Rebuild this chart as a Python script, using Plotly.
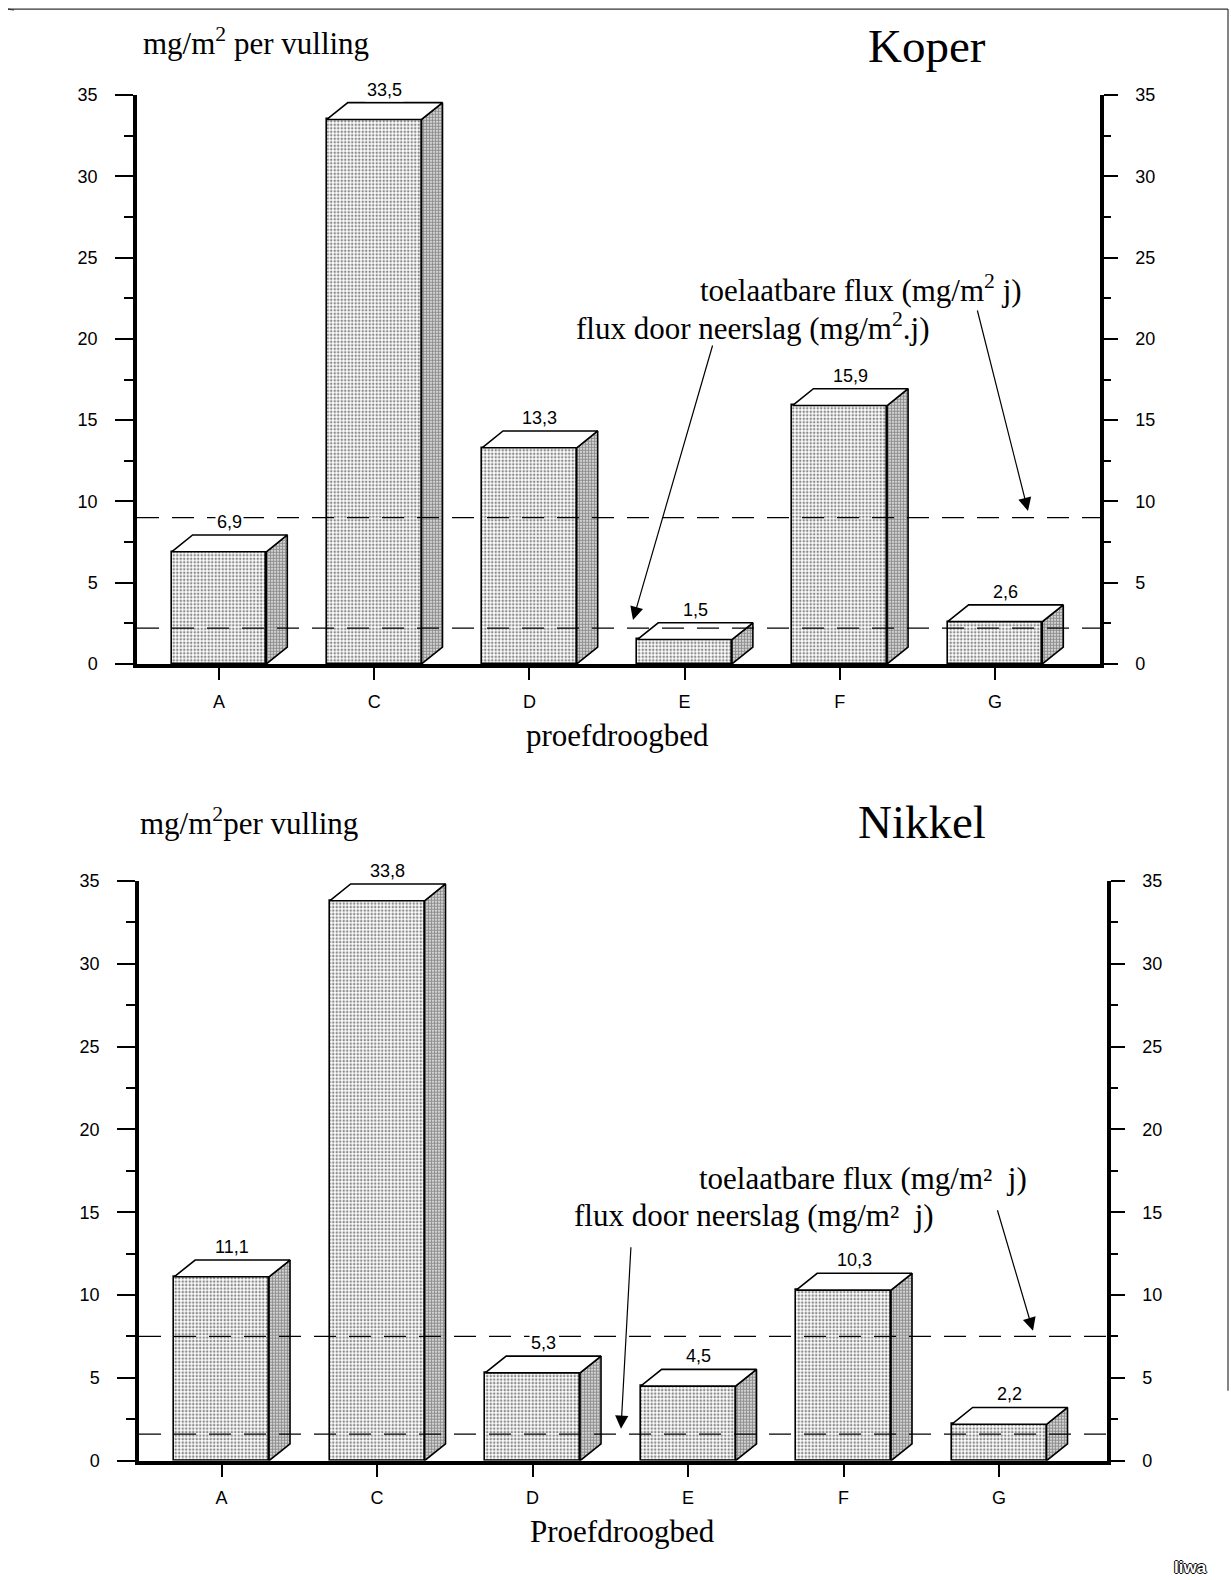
import plotly.graph_objects as go

# ---------------- data ----------------
categories = ["A", "C", "D", "E", "F", "G"]
koper_values = [6.9, 33.5, 13.3, 1.5, 15.9, 2.6]
nikkel_values = [11.1, 33.8, 5.3, 4.5, 10.3, 2.2]
koper_toelaatbaar = 9.0
koper_neerslag = 2.2
nikkel_toelaatbaar = 7.5
nikkel_neerslag = 1.6
y_max = 35

# ---------------- styling / geometry ----------------
W, H = 1231, 1580
SERIF = "Times New Roman, Liberation Serif, serif"
SANS = "Arial, Liberation Sans, Helvetica, sans-serif"
BAR_W = 0.61        # width of the front face (category units)
DX = 0.135          # horizontal depth of the 3D box (category units)
DEPTH_PX = 17       # vertical depth of the 3D box (pixels)
FRONT_PATTERN = dict(shape=".", size=3.5, solidity=0.42, fgcolor="#1a1a1a", bgcolor="white")
SIDE_PATTERN = dict(shape=".", size=3, solidity=0.66, fgcolor="#1a1a1a", bgcolor="white")

# vertical layout grid: page rows are laid out on a slightly tighter pitch
ROW_SCALE, ROW_OFFSET = 0.9876, 8.9


def fx(p):
    return p / W


def row(p):
    return (p - ROW_OFFSET) / ROW_SCALE


def fy(p):
    return 1 - row(p) / H


panels = [
    dict(values=koper_values, toel=koper_toelaatbaar, neer=koper_neerslag,
         xr="x", yr="y", yr2="y2", xkey="xaxis", ykey="yaxis", y2key="yaxis2",
         left=137, right=1100, top=94, bottom=663, first=219, step=155.2,
         ylabel="mg/m<sup>2</sup> per vulling", ylabel_pos=(141, 40),
         title="Koper", title_pos=(927, 45),
         xlabel="proefdroogbed", xlabel_pos=(617, 735),
         toel_text="toelaatbare flux (mg/m<sup>2</sup> j)", toel_pos=(861, 287),
         neer_text="flux door neerslag (mg/m<sup>2</sup>.j)", neer_pos=(752, 325),
         toel_arrow=((977, 308), (1028, 510)),
         neer_arrow=((713, 343), (633, 619))),
    dict(values=nikkel_values, toel=nikkel_toelaatbaar, neer=nikkel_neerslag,
         xr="x2", yr="y3", yr2="y4", xkey="xaxis2", ykey="yaxis3", y2key="yaxis4",
         left=139, right=1107, top=880, bottom=1460, first=221.6, step=155.5,
         ylabel="mg/m<sup>2</sup>per vulling", ylabel_pos=(138, 821),
         title="Nikkel", title_pos=(922, 821),
         xlabel="Proefdroogbed", xlabel_pos=(622, 1531),
         toel_text="toelaatbare flux (mg/m\u00b2\u00a0 j)", toel_pos=(863, 1178),
         neer_text="flux door neerslag (mg/m\u00b2\u00a0 j)", neer_pos=(754, 1215),
         toel_arrow=((997, 1208), (1033, 1330)),
         neer_arrow=((631, 1245), (621, 1428))),
]

fig = go.Figure()
annotations = []
shapes = []
layout_axes = {}

for p in panels:
    vals = p["values"]
    xs = list(range(len(categories)))
    xmin = -(p["first"] - p["left"]) / p["step"]
    xmax = xmin + (p["right"] - p["left"]) / p["step"]
    top, bottom = row(p["top"]), row(p["bottom"])
    ppu = (bottom - top) / y_max
    dy = DEPTH_PX / ppu

    def to_data(pt):
        px, py = pt
        return (px - p["first"]) / p["step"], (bottom - row(py)) / ppu

    # front faces of the boxes
    fig.add_trace(go.Bar(
        x=xs, y=vals, width=BAR_W, xaxis=p["xr"], yaxis=p["yr"],
        marker=dict(color="white", pattern=FRONT_PATTERN,
                    line=dict(color="black", width=1.6)),
        hoverinfo="skip", showlegend=False))

    # side and top faces built from the same values
    side_x, side_y, top_x, top_y = [], [], [], []
    for xc, v in zip(xs, vals):
        x0, x1 = xc - BAR_W / 2, xc + BAR_W / 2
        side_x += [x1, x1 + DX, x1 + DX, x1, x1, None]
        side_y += [0, dy, v + dy, v, 0, None]
        top_x += [x0, x0 + DX, x1 + DX, x1, x0, None]
        top_y += [v, v + dy, v + dy, v, v, None]
    fig.add_trace(go.Scatter(
        x=side_x, y=side_y, xaxis=p["xr"], yaxis=p["yr"], mode="lines",
        fill="toself", fillcolor="white", fillpattern=SIDE_PATTERN,
        line=dict(color="black", width=1.6), hoverinfo="skip", showlegend=False))
    fig.add_trace(go.Scatter(
        x=top_x, y=top_y, xaxis=p["xr"], yaxis=p["yr"], mode="lines",
        fill="toself", fillcolor="white",
        line=dict(color="black", width=1.6), hoverinfo="skip", showlegend=False))
    # invisible carrier so the right-hand axis is drawn
    fig.add_trace(go.Scatter(
        x=xs, y=vals, xaxis=p["xr"], yaxis=p["yr2"], mode="markers",
        marker=dict(opacity=0), hoverinfo="skip", showlegend=False))

    # value labels above each box
    for xc, v in zip(xs, vals):
        annotations.append(dict(
            x=xc + DX / 2, y=v + dy, xref=p["xr"], yref=p["yr"],
            text=f"{v:.1f}".replace(".", ","), showarrow=False,
            yanchor="bottom", yshift=1, bgcolor="white",
            font=dict(family=SANS, size=18, color="black")))

    # reference levels
    for lvl in (p["toel"], p["neer"]):
        shapes.append(dict(
            type="line", xref=f"{p['xr']} domain", yref=p["yr"],
            x0=0, x1=1, y0=lvl, y1=lvl, layer="above",
            line=dict(color="black", width=1.3, dash="22px,13px")))

    # texts
    annotations.append(dict(
        x=fx(p["ylabel_pos"][0]), y=fy(p["ylabel_pos"][1]), xref="paper", yref="paper",
        text=p["ylabel"], showarrow=False, xanchor="left", yanchor="middle",
        font=dict(family=SERIF, size=31, color="black")))
    annotations.append(dict(
        x=fx(p["title_pos"][0]), y=fy(p["title_pos"][1]), xref="paper", yref="paper",
        text=p["title"], showarrow=False, xanchor="center", yanchor="middle",
        font=dict(family=SERIF, size=47, color="black")))
    annotations.append(dict(
        x=fx(p["xlabel_pos"][0]), y=fy(p["xlabel_pos"][1]), xref="paper", yref="paper",
        text=p["xlabel"], showarrow=False, xanchor="center", yanchor="middle",
        font=dict(family=SERIF, size=31, color="black")))
    for key in ("toel", "neer"):
        tx, ty = to_data(p[f"{key}_pos"])
        annotations.append(dict(
            x=tx, y=ty, xref=p["xr"], yref=p["yr"], text=p[f"{key}_text"],
            showarrow=False, xanchor="center", yanchor="middle",
            font=dict(family=SERIF, size=31, color="black")))
        tail, head = p[f"{key}_arrow"]
        hx, hy = to_data(head)
        ax, ay = to_data(tail)
        annotations.append(dict(
            x=hx, y=hy, ax=ax, ay=ay, xref=p["xr"], yref=p["yr"],
            axref=p["xr"], ayref=p["yr"], text="", showarrow=True,
            arrowhead=2, arrowsize=2.2, arrowwidth=1.2, arrowcolor="black", standoff=0))

    tickfont = dict(family=SANS, size=18, color="black")
    layout_axes[p["xkey"]] = dict(
        domain=[fx(p["left"]), fx(p["right"])], range=[xmin, xmax], anchor=p["yr"],
        tickmode="array", tickvals=xs, ticktext=categories,
        ticks="outside", ticklen=12, tickwidth=2, tickcolor="black",
        showline=True, linewidth=4, linecolor="black",
        showgrid=False, zeroline=False, tickfont=tickfont, ticklabelstandoff=6,
        fixedrange=True)
    common_y = dict(
        range=[0, y_max], tickmode="linear", tick0=0, dtick=5,
        ticks="outside", tickwidth=2, tickcolor="black",
        showline=True, linewidth=3.5, linecolor="black",
        showgrid=False, zeroline=False, tickfont=tickfont, fixedrange=True)
    layout_axes[p["ykey"]] = dict(
        common_y, domain=[1 - bottom / H, 1 - top / H], anchor=p["xr"], side="left",
        ticklen=18, ticklabelstandoff=14,
        minor=dict(dtick=2.5, tick0=0, ticks="outside", ticklen=9, tickwidth=1.5, tickcolor="black"))
    layout_axes[p["y2key"]] = dict(
        common_y, overlaying=p["yr"], anchor=p["xr"], side="right",
        ticklen=14, ticklabelstandoff=14,
        minor=dict(dtick=2.5, tick0=0, ticks="outside", ticklen=7, tickwidth=1.5, tickcolor="black"))

# page frame
frame = dict(color="#333333", width=1.2)
shapes += [
    dict(type="line", xref="paper", yref="paper", x0=fx(8), x1=fx(1228), y0=fy(8), y1=fy(8), line=frame),
    dict(type="line", xref="paper", yref="paper", x0=fx(8), x1=fx(14), y0=fy(8), y1=1, line=frame),
    dict(type="line", xref="paper", yref="paper", x0=fx(1228), x1=fx(1228), y0=fy(8), y1=fy(1390), line=frame),
]

# small logo bottom-right
annotations.append(dict(
    x=fx(1190), y=fy(1567), xref="paper", yref="paper", text="<b>Iiwa</b>",
    showarrow=False, xanchor="center", yanchor="middle",
    font=dict(family=SANS, size=17, color="white",
              shadow="1px 0 0 #000, -1px 0 0 #000, 0 1px 0 #000, 0 -1px 0 #000")))

fig.update_layout(
    width=W, height=H, margin=dict(l=0, r=0, t=0, b=0),
    paper_bgcolor="white", plot_bgcolor="white",
    showlegend=False, bargap=0,
    annotations=annotations, shapes=shapes,
    **layout_axes)

fig.write_html(
    "out.html", config={"displayModeBar": False},
    post_script="document.body.style.margin='0';document.documentElement.style.overflow='hidden';")
